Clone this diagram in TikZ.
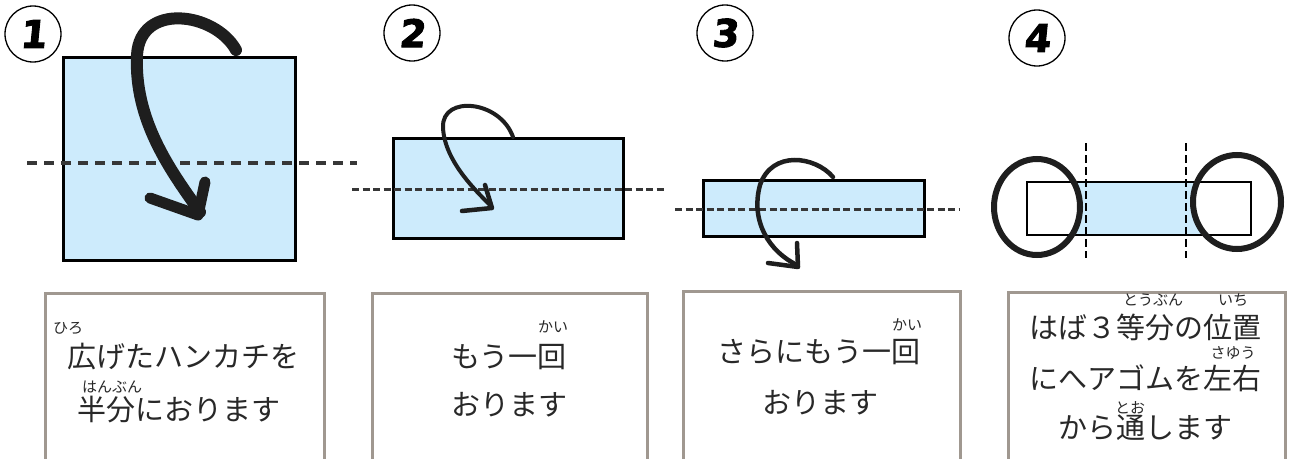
\documentclass[tikz,border=0pt]{standalone}
\usepackage{fontspec}
\setmainfont{Noto Sans CJK JP}
\newfontfamily\digitfont[BoldFeatures={FakeSlant=0.1,FakeBold=2.5}]{DejaVu Sans}
\definecolor{paper}{RGB}{205,235,252}
\definecolor{txt}{RGB}{40,40,40}
\definecolor{boxline}{RGB}{160,152,144}
\definecolor{dash}{RGB}{55,55,55}
\definecolor{brush}{RGB}{30,30,30}
\tikzset{
  sheet/.style={fill=paper,draw=black,line width=3},
  foldline/.style={draw=dash,line width=3.2,dash pattern=on 10 off 7},
  foldfine/.style={draw=dash,line width=3,dash pattern=on 7 off 3.5},
  numcirc/.style={circle,draw=black,line width=1.3,minimum size=56,inner sep=0,
     font=\digitfont\bfseries\fontsize{38}{40}\selectfont},
  infobox/.style={draw=boxline,line width=3,fill=white},
  line/.style={inner sep=0,text=txt,font=\fontsize{29}{34}\selectfont},
  ruby/.style={inner sep=0,text=txt,font=\fontsize{15}{16}\selectfont},
  band/.style={draw=brush,line width=6,fill=white},
}
\begin{document}
\begin{tikzpicture}[x=1pt,y=-1pt]
\useasboundingbox (0,0) rectangle (1293,458);
\clip (0,0) rectangle (1293,458);
\fill[white] (0,0) rectangle (1293,458);

% ---------- step numbers
\node[numcirc] (n1) at (33,34) {1};
\node[numcirc] (n2) at (412,33) {2};
\node[numcirc] (n3) at (725,33) {3};
\node[numcirc] (n4) at (1037,38) {4};

% ---------- panel 1
\draw[sheet] (63,57) rectangle (295,260);
\draw[foldline] (27,163) -- (357,163);
\draw[brush,line width=12,line cap=round] (236,50) .. controls (215,12) and (140,2) .. (137,55)
   .. controls (134,120) and (170,170) .. (200,212);
\draw[brush,line width=11,line cap=round,line join=round] (150,198) -- (198,215) -- (205,182);

% ---------- panel 2
\draw[sheet] (393,138) rectangle (623,238);
\draw[foldfine] (352,189) -- (667,189);
\draw[brush,line width=4,line cap=round] (513,137) .. controls (500,100) and (442,95) .. (443,127)
   .. controls (444,160) and (475,190) .. (490,205);
\draw[brush,line width=4.5,line cap=round,line join=round] (462,211) -- (492,208) -- (485,185);

% ---------- panel 3
\draw[sheet] (703,180) rectangle (924,236);
\draw[foldfine] (675,209) -- (960,209);
\draw[brush,line width=4.5,line cap=round] (833,177) .. controls (815,156) and (772,150) .. (760,185)
   .. controls (750,222) and (770,252) .. (797,265);
\draw[brush,line width=4.5,line cap=round,line join=round] (768,263) -- (798,267) -- (797,243);

% ---------- panel 4
\fill[paper] (1027,182) rectangle (1251,235);
\fill[white] (1037,207) ellipse [x radius=43, y radius=48];
\fill[white] (1237,202) ellipse [x radius=44, y radius=47];
\draw[black,line width=2.5] (1027,182) rectangle (1251,235);
\draw[brush,line width=6] (1037,207) ellipse [x radius=43, y radius=48];
\draw[brush,line width=6] (1237,202) ellipse [x radius=44, y radius=47];
\draw[draw=black,line width=2.2,dash pattern=on 8 off 4] (1086,143) -- (1086,258);
\draw[draw=black,line width=2.2,dash pattern=on 8 off 4] (1186,143) -- (1186,258);

% ---------- text boxes
\draw[infobox] (45,293) rectangle (324,470);
\draw[infobox] (372,293) rectangle (647,470);
\draw[infobox] (683,291) rectangle (960,470);
\draw[infobox] (1008,292) rectangle (1285,470);

% box 1
\node[ruby] (r1a) at (68,328) {ひろ};
\node[line] (t1a) at (183.5,357) {広げたハンカチを};
\node[ruby] (r1b) at (112,387) {はんぶん};
\node[line] (t1b) at (178.5,410) {半分におります};

% box 2
\node[ruby] (r2a) at (553,327) {かい};
\node[line] (t2a) at (509,357) {もう一回};
\node[line] (t2b) at (509,405) {おります};

% box 3
\node[ruby] (r3a) at (907,325) {かい};
\node[line] (t3a) at (819,352) {さらにもう一回};
\node[line] (t3b) at (820,403) {おります};

% box 4
\node[ruby] (r4a) at (1153,300) {とうぶん};
\node[ruby] (r4b) at (1233,300) {いち};
\node[line] (t4a) at (1145,327) {はば３等分の位置};
\node[ruby] (r4c) at (1233,353) {さゆう};
\node[line] (t4b) at (1145,378) {にへアゴムを左右};
\node[ruby] (r4d) at (1130,408) {とお};
\node[line] (t4c) at (1145,428) {から通します};
\end{tikzpicture}
\end{document}
